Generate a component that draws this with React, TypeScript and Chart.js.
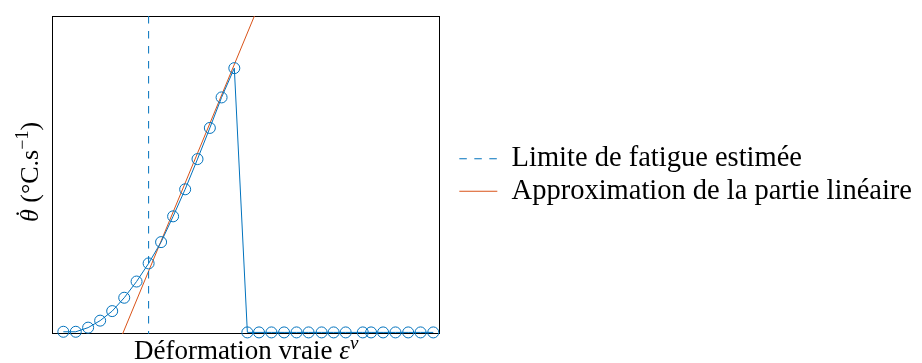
import React, { useEffect, useRef } from "react";
import { Chart, registerables } from "chart.js";

Chart.register(...registerables);

// True strain (arbitrary units along the axis) and heating rate (arbitrary units)
const strain = [
  2.92, 6.12, 9.3, 12.4, 15.5, 18.6, 21.78, 24.88, 28.09, 31.19, 34.29, 37.47,
  40.65, 43.67, 46.95, 50.31, 53.31, 56.51, 59.77, 62.97, 66.07, 69.43, 72.53,
  75.63, 80.03, 82.17, 85.27, 88.45, 91.73, 94.91, 98.19,
];
const heatRate = [
  0.7, 0.7, 2.0, 4.2, 7.2, 11.4, 16.5, 22.2, 28.9, 37.0, 45.5, 55.0, 64.8,
  74.4, 83.6, 0.5, 0.5, 0.5, 0.5, 0.5, 0.5, 0.5, 0.5, 0.5, 0.5, 0.5, 0.5, 0.5,
  0.5, 0.5, 0.5,
];
const fatigueLimitStrain = 24.88;
const fitStrain = [18.17, 52.12];
const fitRate = [0, 100];
const xRange = [0, 100];
const yRange = [0, 100];

const legendLabels = ["Limite de fatigue estimée", "Approximation de la partie linéaire"];
// axis titles, split into runs: [text, style] where style is "n" normal, "i" italic, "s" superscript
const xTitleRuns: [string, string][] = [["Déformation vraie ", "n"], ["ε", "i"], ["v", "si"]];
const yTitleRuns: [string, string][] = [["θ", "i"], [" (°C.s", "n"], ["−1", "s"], [")", "n"]];

const BLUE = "#0072BD";
const ORANGE = "#D95319";
const FAMILY = "'Liberation Serif', 'DejaVu Serif', serif";

function fontFor(style: string, size: number) {
  const sz = style.includes("s") ? Math.round(size * 0.7) : size;
  const it = style.includes("i") ? "italic " : "";
  return `${it}${sz}px ${FAMILY}`;
}

function drawRuns(ctx: CanvasRenderingContext2D, runs: [string, string][], size: number, dotOnFirst: boolean) {
  let total = 0;
  const widths: number[] = [];
  for (const [t, s] of runs) {
    ctx.font = fontFor(s, size);
    const w = ctx.measureText(t).width;
    widths.push(w);
    total += w;
  }
  let x = -total / 2;
  ctx.textBaseline = "alphabetic";
  ctx.textAlign = "left";
  runs.forEach(([t, s], i) => {
    ctx.font = fontFor(s, size);
    const dy = s.includes("s") ? -size * 0.38 : 0;
    ctx.fillText(t, x, dy);
    if (dotOnFirst && i === 0) {
      ctx.save();
      ctx.font = `${size}px ${FAMILY}`;
      ctx.textAlign = "center";
      ctx.fillText("˙", x + widths[0] / 2 + size * 0.08, -size * 0.2);
      ctx.restore();
    }
    x += widths[i];
  });
}

const framePlugin = {
  id: "frame",
  beforeDatasetsDraw(chart: any) {
    const { ctx, chartArea } = chart;
    const l = Math.round(chartArea.left) + 0.5;
    const t = Math.round(chartArea.top) + 0.5;
    const r = Math.round(chartArea.right) - 0.5;
    const b = Math.round(chartArea.bottom) - 0.5;
    ctx.save();
    ctx.strokeStyle = "#000";
    ctx.lineWidth = 1;
    ctx.strokeRect(l, t, r - l, b - t);
    ctx.restore();
  },
  afterDraw(chart: any) {
    const { ctx, chartArea } = chart;
    ctx.save();
    ctx.fillStyle = "#000";
    ctx.translate((chartArea.left + chartArea.right) / 2, chartArea.bottom + 25);
    drawRuns(ctx, xTitleRuns, 27, false);
    ctx.restore();
    ctx.save();
    ctx.fillStyle = "#000";
    ctx.translate(chartArea.left - 14, (chartArea.top + chartArea.bottom) / 2 - 3);
    ctx.rotate(-Math.PI / 2);
    drawRuns(ctx, yTitleRuns, 26, true);
    ctx.restore();
  },
};

export default function App() {
  const ref = useRef<HTMLCanvasElement | null>(null);

  useEffect(() => {
    const canvas = ref.current;
    if (!canvas) return;
    const chart = new Chart(canvas, {
      type: "line",
      data: {
        datasets: [
          {
            label: "mesures",
            data: strain.map((x, i) => ({ x, y: heatRate[i] })),
            borderColor: BLUE,
            backgroundColor: "rgba(0,0,0,0)",
            borderWidth: 1,
            pointRadius: 5.5,
            pointBorderWidth: 1,
            pointBorderColor: BLUE,
            pointBackgroundColor: "rgba(0,0,0,0)",
            pointStyle: "circle",
            clip: false as any,
          },
          {
            label: legendLabels[0],
            data: [
              { x: fatigueLimitStrain, y: yRange[1] },
              { x: fatigueLimitStrain, y: yRange[0] },
            ],
            borderColor: BLUE,
            backgroundColor: BLUE,
            borderWidth: 1,
            borderDash: [7.5, 7.5],
            pointRadius: 0,
          },
          {
            label: legendLabels[1],
            data: fitStrain.map((x, i) => ({ x, y: fitRate[i] })),
            borderColor: ORANGE,
            backgroundColor: ORANGE,
            borderWidth: 1,
            pointRadius: 0,
          },
        ],
      },
      options: {
        responsive: false,
        animation: false,
        devicePixelRatio: 1,
        layout: { padding: { left: 52, top: 16, right: 0, bottom: 29 } },
        plugins: {
          tooltip: { enabled: false },
          legend: {
            position: "right",
            align: "center",
            fullSize: false,
            maxWidth: 600,
            labels: {
              usePointStyle: true,
              pointStyleWidth: 38,
              padding: 4,
              color: "#000",
              font: { family: FAMILY, size: 28.5 },
              generateLabels: (ch: any) =>
                ch.data.datasets
                  .map((ds: any, i: number) => ({
                    text: ds.label,
                    datasetIndex: i,
                    strokeStyle: ds.borderColor,
                    fillStyle: ds.borderColor,
                    lineWidth: 1,
                    lineDash: ds.borderDash || [],
                    pointStyle: "line",
                    hidden: false,
                    fontColor: "#000",
                  }))
                  .filter((it: any) => it.datasetIndex !== 0),
            },
          },
        },
        scales: {
          x: {
            type: "linear",
            min: xRange[0],
            max: xRange[1],
            display: false,
          },
          y: {
            type: "linear",
            min: yRange[0],
            max: yRange[1],
            display: false,
          },
          y2: {
            type: "linear",
            position: "right",
            display: true,
            ticks: { display: false },
            grid: { display: false, drawTicks: false },
            border: { display: false },
            afterFit: (scale: any) => {
              scale.width = 15;
            },
          },
        },
      } as any,
      plugins: [framePlugin],
    });
    return () => chart.destroy();
  }, []);

  return (
    <div style={{ position: "absolute", left: 0, top: 0, width: 922, height: 363, background: "#fff" }}>
      <canvas ref={ref} width={922} height={363} />
    </div>
  );
}
